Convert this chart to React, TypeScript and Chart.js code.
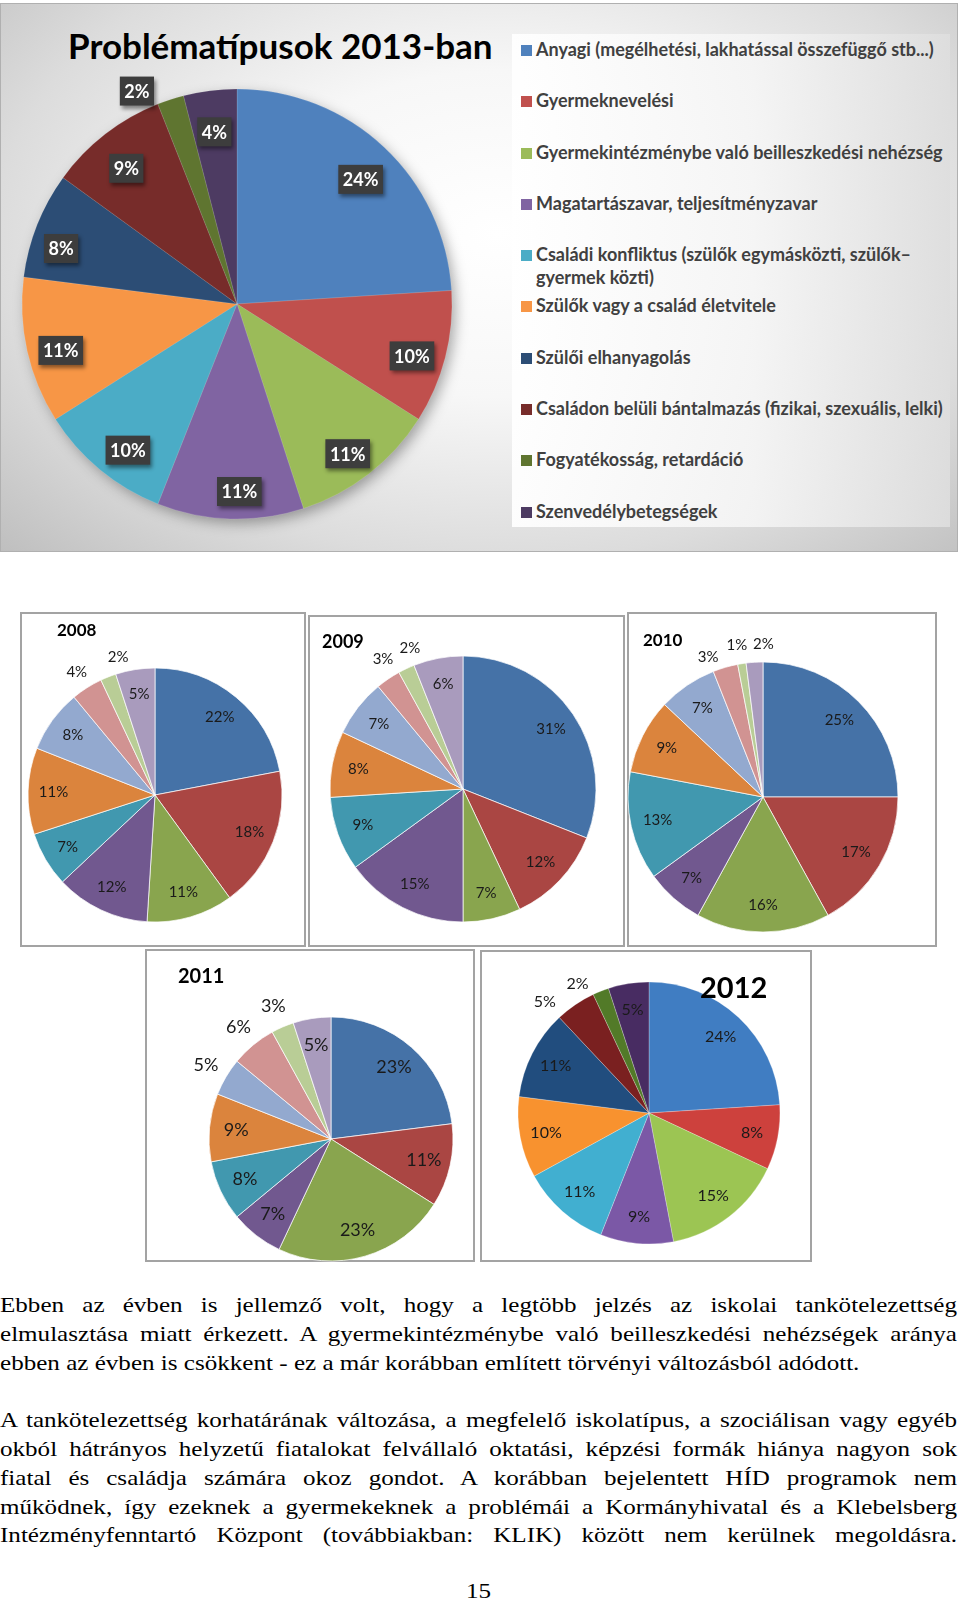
import React, { useEffect, useRef } from 'react';
import { Chart, registerables } from 'chart.js';
Chart.register(...registerables);

// ---------- data ----------
const CATEGORIES = [
  'Anyagi (megélhetési, lakhatással összefüggő stb...)',
  'Gyermeknevelési',
  'Gyermekintézménybe való beilleszkedési nehézség',
  'Magatartászavar, teljesítményzavar',
  'Családi konfliktus (szülők egymásközti, szülők–gyermek közti)',
  'Szülők vagy a család életvitele',
  'Szülői elhanyagolás',
  'Családon belüli bántalmazás (fizikai, szexuális, lelki)',
  'Fogyatékosság, retardáció',
  'Szenvedélybetegségek',
];
const MAIN_TITLE = 'Problématípusok 2013-ban';
const VALUES_2013 = [24, 10, 11, 11, 10, 11, 8, 9, 2, 4];
const VALUES_2008 = [22, 18, 11, 12, 7, 11, 8, 4, 2, 5];
const VALUES_2009 = [31, 12, 7, 15, 9, 8, 7, 3, 2, 6];
const VALUES_2010 = [25, 17, 16, 7, 13, 9, 7, 3, 1, 2];
const VALUES_2011 = [23, 11, 23, 7, 8, 9, 5, 6, 3, 5];
const VALUES_2012 = [24, 8, 15, 9, 11, 10, 11, 5, 2, 5];

const PALETTE_NEW = ['#4F81BD', '#C0504D', '#9BBB59', '#8064A2', '#4BACC6', '#F79646', '#2C4D75', '#772C2A', '#5F7530', '#4D3B62'];
const PALETTE_2012 = ['#407DC2', '#CD413D', '#9CC553', '#7B58A6', '#41AFD0', '#F8922F', '#214D7E', '#7A2020', '#527A28', '#482C62'];
const PALETTE_OLD = ['#4572A7', '#AA4643', '#89A54E', '#71588F', '#4198AF', '#DB843D', '#93A9CF', '#D19392', '#B9CD96', '#A99BBD'];

const PARA1 = [
  'Ebben az évben is jellemző volt, hogy a legtöbb jelzés az iskolai tankötelezettség',
  'elmulasztása miatt érkezett. A gyermekintézménybe való beilleszkedési nehézségek aránya',
  'ebben az évben is csökkent - ez a már korábban említett törvényi változásból adódott.',
];
const PARA2 = [
  'A tankötelezettség korhatárának változása, a megfelelő iskolatípus, a szociálisan vagy egyéb',
  'okból hátrányos helyzetű fiatalokat felvállaló oktatási, képzési formák hiánya nagyon sok',
  'fiatal és családja számára okoz gondot. A korábban bejelentett HÍD programok nem',
  'működnek, így ezeknek a gyermekeknek a problémái a Kormányhivatal és a Klebelsberg',
  'Intézményfenntartó Központ (továbbiakban: KLIK) között nem kerülnek megoldásra.',
];
const PAGE_NUMBER = '15';

// ---------- plugins ----------
const pieShadow = {
  id: 'pieShadow',
  beforeDatasetsDraw(chart: any, _a: any, opts: any) {
    if (!opts || !opts.enabled) return;
    const arc = chart.getDatasetMeta(0).data[0];
    if (!arc) return;
    const { x, y, outerRadius } = arc.getProps(['x', 'y', 'outerRadius'], true);
    const ctx = chart.ctx;
    ctx.save();
    ctx.shadowColor = 'rgba(0,0,0,0.35)';
    ctx.shadowBlur = 14;
    ctx.shadowOffsetX = 4;
    ctx.shadowOffsetY = 5;
    ctx.fillStyle = '#888';
    ctx.beginPath();
    ctx.arc(x, y, outerRadius - 1, 0, Math.PI * 2);
    ctx.fill();
    ctx.restore();
  },
};

const pctLabels = {
  id: 'pctLabels',
  afterDatasetsDraw(chart: any, _a: any, opts: any) {
    const ctx = chart.ctx;
    const meta = chart.getDatasetMeta(0);
    const data = chart.data.datasets[0].data;
    ctx.save();
    meta.data.forEach((arc: any, i: number) => {
      const { x, y, startAngle, endAngle, outerRadius } = arc.getProps(['x', 'y', 'startAngle', 'endAngle', 'outerRadius'], true);
      const mid = (startAngle + endAngle) / 2;
      const outside = opts.outside.includes(i);
      const r = outerRadius * (outside ? opts.outFactor : opts.inFactor);
      const shift = (opts.shift && opts.shift[i]) || [0, 0];
      const lx = x + Math.cos(mid) * r + shift[0];
      const ly = y + Math.sin(mid) * r + shift[1] + (outside ? 0 : opts.dy || 0);
      const text = data[i] + '%';
      ctx.font = opts.font;
      ctx.textAlign = 'center';
      ctx.textBaseline = 'middle';
      if (opts.boxed) {
        const w = ctx.measureText(text).width + 9;
        const h = 29;
        ctx.save();
        ctx.shadowColor = 'rgba(0,0,0,0.45)';
        ctx.shadowBlur = 4;
        ctx.shadowOffsetX = 2;
        ctx.shadowOffsetY = 3;
        ctx.fillStyle = '#3d3d3d';
        ctx.fillRect(lx - w / 2, ly - h / 2, w, h);
        ctx.restore();
        ctx.fillStyle = '#ffffff';
        ctx.fillText(text, lx, ly + 1);
      } else {
        ctx.fillStyle = opts.color;
        ctx.fillText(text, lx, ly);
      }
    });
    ctx.restore();
  },
};

type Box = { left: number; top: number; width: number; height: number };
type PieSpec = {
  values: number[];
  colors: string[];
  box: Box;
  cx: number;
  cy: number;
  r: number;
  font: string;
  color: string;
  inFactor: number;
  outFactor: number;
  outside: number[];
  shift?: Record<number, [number, number]>;
  dy?: number;
  boxed?: boolean;
  shadow?: boolean;
  borderColor: string;
  borderWidth: number;
};

function PieCanvas({ spec }: { spec: PieSpec }) {
  const ref = useRef<HTMLCanvasElement>(null);
  useEffect(() => {
    const { box, cx, cy, r } = spec;
    const pl = cx - box.left - r;
    const pr = box.left + box.width - cx - r;
    const pt = cy - box.top - r;
    const pb = box.top + box.height - cy - r;
    const chart = new Chart(ref.current as HTMLCanvasElement, {
      type: 'pie',
      data: {
        labels: CATEGORIES,
        datasets: [
          {
            data: spec.values,
            backgroundColor: spec.colors,
            borderColor: spec.borderColor,
            borderWidth: spec.borderWidth,
          },
        ],
      },
      options: {
        responsive: false,
        animation: false,
        devicePixelRatio: 1,
        radius: r,
        layout: { padding: { left: pl, right: pr, top: pt, bottom: pb } },
        plugins: {
          legend: { display: false },
          tooltip: { enabled: false },
          pieShadow: { enabled: !!spec.shadow },
          pctLabels: {
            font: spec.font,
            color: spec.color,
            inFactor: spec.inFactor,
            outFactor: spec.outFactor,
            outside: spec.outside,
            shift: spec.shift || {},
            dy: spec.dy || 0,
            boxed: !!spec.boxed,
          },
        },
      } as any,
      plugins: [pieShadow, pctLabels],
    });
    return () => chart.destroy();
  }, []);
  const { box } = spec;
  return (
    <canvas
      ref={ref}
      width={box.width}
      height={box.height}
      style={{ position: 'absolute', left: box.left, top: box.top, width: box.width, height: box.height }}
    />
  );
}

const SANS = 'Lato, "Open Sans", sans-serif';
const SERIF = '"Liberation Serif", Tinos, "Times New Roman", Times, serif';

const SMALL_BORDER = 'rgba(255,255,255,0.7)';

const PIES: { spec: PieSpec; title: string; tx: number; tbase: number; tsize: number }[] = [
  {
    title: '2008', tx: 57, tbase: 637, tsize: 17,
    spec: {
      values: VALUES_2008, colors: PALETTE_OLD,
      box: { left: 20, top: 612, width: 286, height: 335 },
      cx: 155, cy: 795, r: 127,
      font: `15px ${SANS}`, color: '#1a1a1a', inFactor: 0.8, outFactor: 1.15, outside: [7, 8],
      shift: { 8: [17, -2] },
      borderColor: SMALL_BORDER, borderWidth: 1,
    },
  },
  {
    title: '2009', tx: 322, tbase: 648, tsize: 18,
    spec: {
      values: VALUES_2009, colors: PALETTE_OLD,
      box: { left: 308, top: 615, width: 317, height: 332 },
      cx: 463, cy: 789, r: 133,
      font: `15px ${SANS}`, color: '#1a1a1a', inFactor: 0.8, outFactor: 1.15, outside: [7, 8],
      shift: { 7: [6, -3], 8: [12, -2] },
      borderColor: SMALL_BORDER, borderWidth: 1,
    },
  },
  {
    title: '2010', tx: 643, tbase: 647, tsize: 17,
    spec: {
      values: VALUES_2010, colors: PALETTE_OLD,
      box: { left: 627, top: 612, width: 310, height: 335 },
      cx: 763, cy: 797, r: 135,
      font: `15px ${SANS}`, color: '#1a1a1a', inFactor: 0.8, outFactor: 1.14, outside: [7, 8, 9],
      shift: { 7: [-12, 8], 8: [-2, 0], 9: [10, 1] },
      borderColor: SMALL_BORDER, borderWidth: 1,
    },
  },
  {
    title: '2011', tx: 178, tbase: 983, tsize: 20,
    spec: {
      values: VALUES_2011, colors: PALETTE_OLD,
      box: { left: 145, top: 949, width: 330, height: 313 },
      cx: 331, cy: 1139, r: 122,
      font: `18px ${SANS}`, color: '#1a1a1a', inFactor: 0.78, outFactor: 1.19, outside: [6, 7, 8],
      borderColor: SMALL_BORDER, borderWidth: 1,
    },
  },
  {
    title: '2012', tx: 700, tbase: 997, tsize: 29,
    spec: {
      values: VALUES_2012, colors: PALETTE_2012,
      box: { left: 480, top: 950, width: 332, height: 312 },
      cx: 649, cy: 1113, r: 131,
      font: `16px ${SANS}`, color: '#1a1a1a', inFactor: 0.8, outFactor: 1.17, outside: [7, 8],
      shift: { 7: [-18, 16], 8: [-15, 13] },
      borderColor: 'rgba(255,255,255,0.5)', borderWidth: 0.5,
    },
  },
];

const MAIN_SPEC: PieSpec = {
  values: VALUES_2013, colors: PALETTE_NEW,
  box: { left: 0, top: 0, width: 505, height: 552 },
  cx: 237, cy: 304, r: 215,
  font: `bold 18px ${SANS}`, color: '#ffffff', inFactor: 0.84, outFactor: 1.1, outside: [8],
  shift: { 8: [-27, 12], 6: [-8, 4], 3: [8, 0], 4: [6, 0] },
  dy: 7,
  boxed: true, shadow: true,
  borderColor: 'rgba(255,255,255,0.25)', borderWidth: 0.5,
};

const LEGEND_ROWS = [50, 101, 153, 204, 255, 306, 358, 409, 460, 512];
const TEXT_SCALE = 1.14;

export default function App() {
  useEffect(() => {
    document.body.style.margin = '0';
  }, []);
  const lines = [
    ...PARA1.map((t, i) => ({ t, i, last: i === PARA1.length - 1 })),
    ...PARA2.map((t, i) => ({ t, i: i + PARA1.length + 1, last: false })),
  ];
  return (
    <div style={{ position: 'absolute', left: 0, top: 0, width: 960, height: 1600, background: '#fff', overflow: 'hidden' }}>
      {/* top panel */}
      <div
        style={{
          position: 'absolute', left: 0, top: 3, width: 958, height: 549, boxSizing: 'border-box',
          border: '1px solid #b0b0b0',
          background: 'radial-gradient(ellipse 75% 85% at 52% 42%, #ffffff 0%, #f7f7f7 35%, #dcdcdc 70%, #bcbcbc 100%)',
        }}
      />
      <div
        style={{
          position: 'absolute', left: 512, top: 34, width: 438, height: 493,
          background: 'linear-gradient(to right, rgba(255,255,255,0.92) 0%, rgba(245,245,245,0.9) 55%, rgba(222,222,222,0.9) 100%)',
        }}
      />
      <div
        style={{
          position: 'absolute', left: 68, top: 22, fontFamily: SANS, fontWeight: 700, fontSize: 35,
          lineHeight: '46px', color: '#000', whiteSpace: 'nowrap',
        }}
      >
        {MAIN_TITLE}
      </div>
      <PieCanvas spec={MAIN_SPEC} />
      {CATEGORIES.map((c, i) => {
        const parts = c.includes('–') ? [c.slice(0, c.indexOf('–') + 1), c.slice(c.indexOf('–') + 1)] : [c];
        return (
          <div key={c} style={{ position: 'absolute', left: 521, top: LEGEND_ROWS[i] - 12, height: 23 }}>
            <div style={{ position: 'absolute', left: 0, top: 7, width: 11, height: 11, background: PALETTE_NEW[i] }} />
            <div
              style={{
                position: 'absolute', left: 15, top: 0, fontFamily: SANS, fontWeight: 700, fontSize: 18,
                lineHeight: '23px', color: '#404040', whiteSpace: 'nowrap',
              }}
            >
              {parts.map((p, k) => (
                <div key={k}>{p}</div>
              ))}
            </div>
          </div>
        );
      })}

      {/* small charts */}
      {PIES.map(({ spec, title, tx, tbase, tsize }) => (
        <React.Fragment key={title}>
          <div
            style={{
              position: 'absolute', left: spec.box.left, top: spec.box.top, width: spec.box.width,
              height: spec.box.height, boxSizing: 'border-box', border: '2px solid #a3a3a3', background: '#fff',
            }}
          />
          <PieCanvas spec={spec} />
          <div
            style={{
              position: 'absolute', left: tx, top: tbase - Math.round(tsize * 0.98), fontFamily: SANS, fontWeight: 700,
              fontSize: tsize, lineHeight: `${Math.round(tsize * 1.2)}px`, color: '#000', whiteSpace: 'nowrap',
            }}
          >
            {title}
          </div>
        </React.Fragment>
      ))}

      {/* body text */}
      {lines.map(({ t, i, last }) => (
        <div
          key={i}
          style={{
            position: 'absolute', left: 0, top: 1291 + i * 28.8, width: 957 / TEXT_SCALE, fontFamily: SERIF, fontSize: 22,
            lineHeight: '28.8px', color: '#000', whiteSpace: 'nowrap', textAlign: last ? 'left' : 'justify',
            textAlignLast: last ? 'left' : 'justify', transform: `scaleX(${TEXT_SCALE})`, transformOrigin: '0 0',
          } as any}
        >
          {t}
        </div>
      ))}
      <div
        style={{
          position: 'absolute', left: 466, top: 1577, fontFamily: SERIF, whiteSpace: 'nowrap',
          fontSize: 22, lineHeight: '28.8px', color: '#000', transform: `scaleX(${TEXT_SCALE})`, transformOrigin: '0 0',
        }}
      >
        {PAGE_NUMBER}
      </div>
    </div>
  );
}
